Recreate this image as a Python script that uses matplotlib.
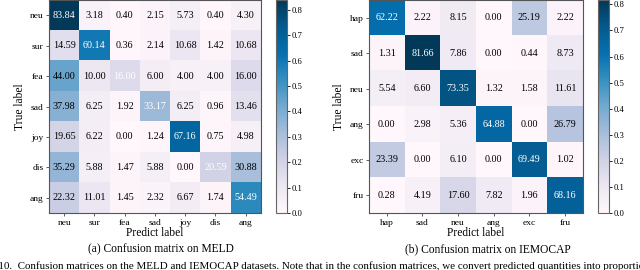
import matplotlib
matplotlib.use('Agg')
import matplotlib.pyplot as plt
import numpy as np

plt.rcParams['font.family'] = ['Liberation Serif', 'DejaVu Serif']

# MELD
meld_labels = ['neu', 'sur', 'fea', 'sad', 'joy', 'dis', 'ang']
meld_cm = [
    [83.84, 3.18, 0.40, 2.15, 5.73, 0.40, 4.30],
    [14.59, 60.14, 0.36, 2.14, 10.68, 1.42, 10.68],
    [44.00, 10.00, 16.00, 6.00, 4.00, 4.00, 16.00],
    [37.98, 6.25, 1.92, 33.17, 6.25, 0.96, 13.46],
    [19.65, 6.22, 0.00, 1.24, 67.16, 0.75, 4.98],
    [35.29, 5.88, 1.47, 5.88, 0.00, 20.59, 30.88],
    [22.32, 11.01, 1.45, 2.32, 6.67, 1.74, 54.49],
]

# IEMOCAP
iemo_labels = ['hap', 'sad', 'neu', 'ang', 'exc', 'fru']
iemo_cm = [
    [62.22, 2.22, 8.15, 0.00, 25.19, 2.22],
    [1.31, 81.66, 7.86, 0.00, 0.44, 8.73],
    [5.54, 6.60, 73.35, 1.32, 1.58, 11.61],
    [0.00, 2.98, 5.36, 64.88, 0.00, 26.79],
    [23.39, 0.00, 6.10, 0.00, 69.49, 1.02],
    [0.28, 4.19, 17.60, 7.82, 1.96, 68.16],
]

fig = plt.figure(figsize=(6.4, 2.7), dpi=100)


def draw_cm(ax, cax, cm, labels):
    m = np.array(cm) / 100.0
    im = ax.imshow(m, cmap='PuBu', vmin=0, vmax=m.max(), aspect='auto')
    n = len(labels)
    for i in range(n):
        for j in range(n):
            c = 'white' if i == j else 'black'
            ax.text(j, i, '%.2f' % cm[i][j], ha='center', va='center',
                    fontsize=7.3, color=c)
    ax.set_xticks(range(n))
    ax.set_yticks(range(n))
    ax.set_xticklabels(labels, fontsize=6.8)
    ax.set_yticklabels(labels, fontsize=6.8)
    ax.tick_params(length=2, width=0.6, pad=2, color='#444444')
    ax.set_xlabel('Predict label', fontsize=8.3, labelpad=0)
    ax.set_ylabel('True label', fontsize=8.3, labelpad=3)
    for s in ax.spines.values():
        s.set_color('#555555')
        s.set_linewidth(0.8)
    cb = fig.colorbar(im, cax=cax)
    cb.set_ticks([0.0, 0.1, 0.2, 0.3, 0.4, 0.5, 0.6, 0.7, 0.8])
    cb.ax.tick_params(labelsize=6.2, length=2, width=0.6, pad=1.5)
    cb.outline.set_edgecolor('#666666')
    cb.outline.set_linewidth(0.8)


ax1 = fig.add_axes([0.0766, 0.211, 0.331, 0.789])
cax1 = fig.add_axes([0.431, 0.211, 0.0172, 0.789])
draw_cm(ax1, cax1, meld_cm, meld_labels)

ax2 = fig.add_axes([0.5766, 0.211, 0.334, 0.789])
cax2 = fig.add_axes([0.934, 0.211, 0.0172, 0.789])
draw_cm(ax2, cax2, iemo_cm, iemo_labels)

fig.text(161 / 640, 1 - 249 / 270, '(a) Confusion matrix on MELD',
         ha='center', va='center', fontsize=8.3)
fig.text(488 / 640, 1 - 249 / 270, '(b) Confusion matrix on IEMOCAP',
         ha='center', va='center', fontsize=8.3)
fig.text(-0.034, 1 - 266 / 270,
         'Fig. 10.  Confusion matrices on the MELD and IEMOCAP datasets. Note that in the '
         'confusion matrices, we convert predicted quantities into proportions',
         ha='left', va='center', fontsize=7.9)

fig.savefig('out.png', dpi=100)
